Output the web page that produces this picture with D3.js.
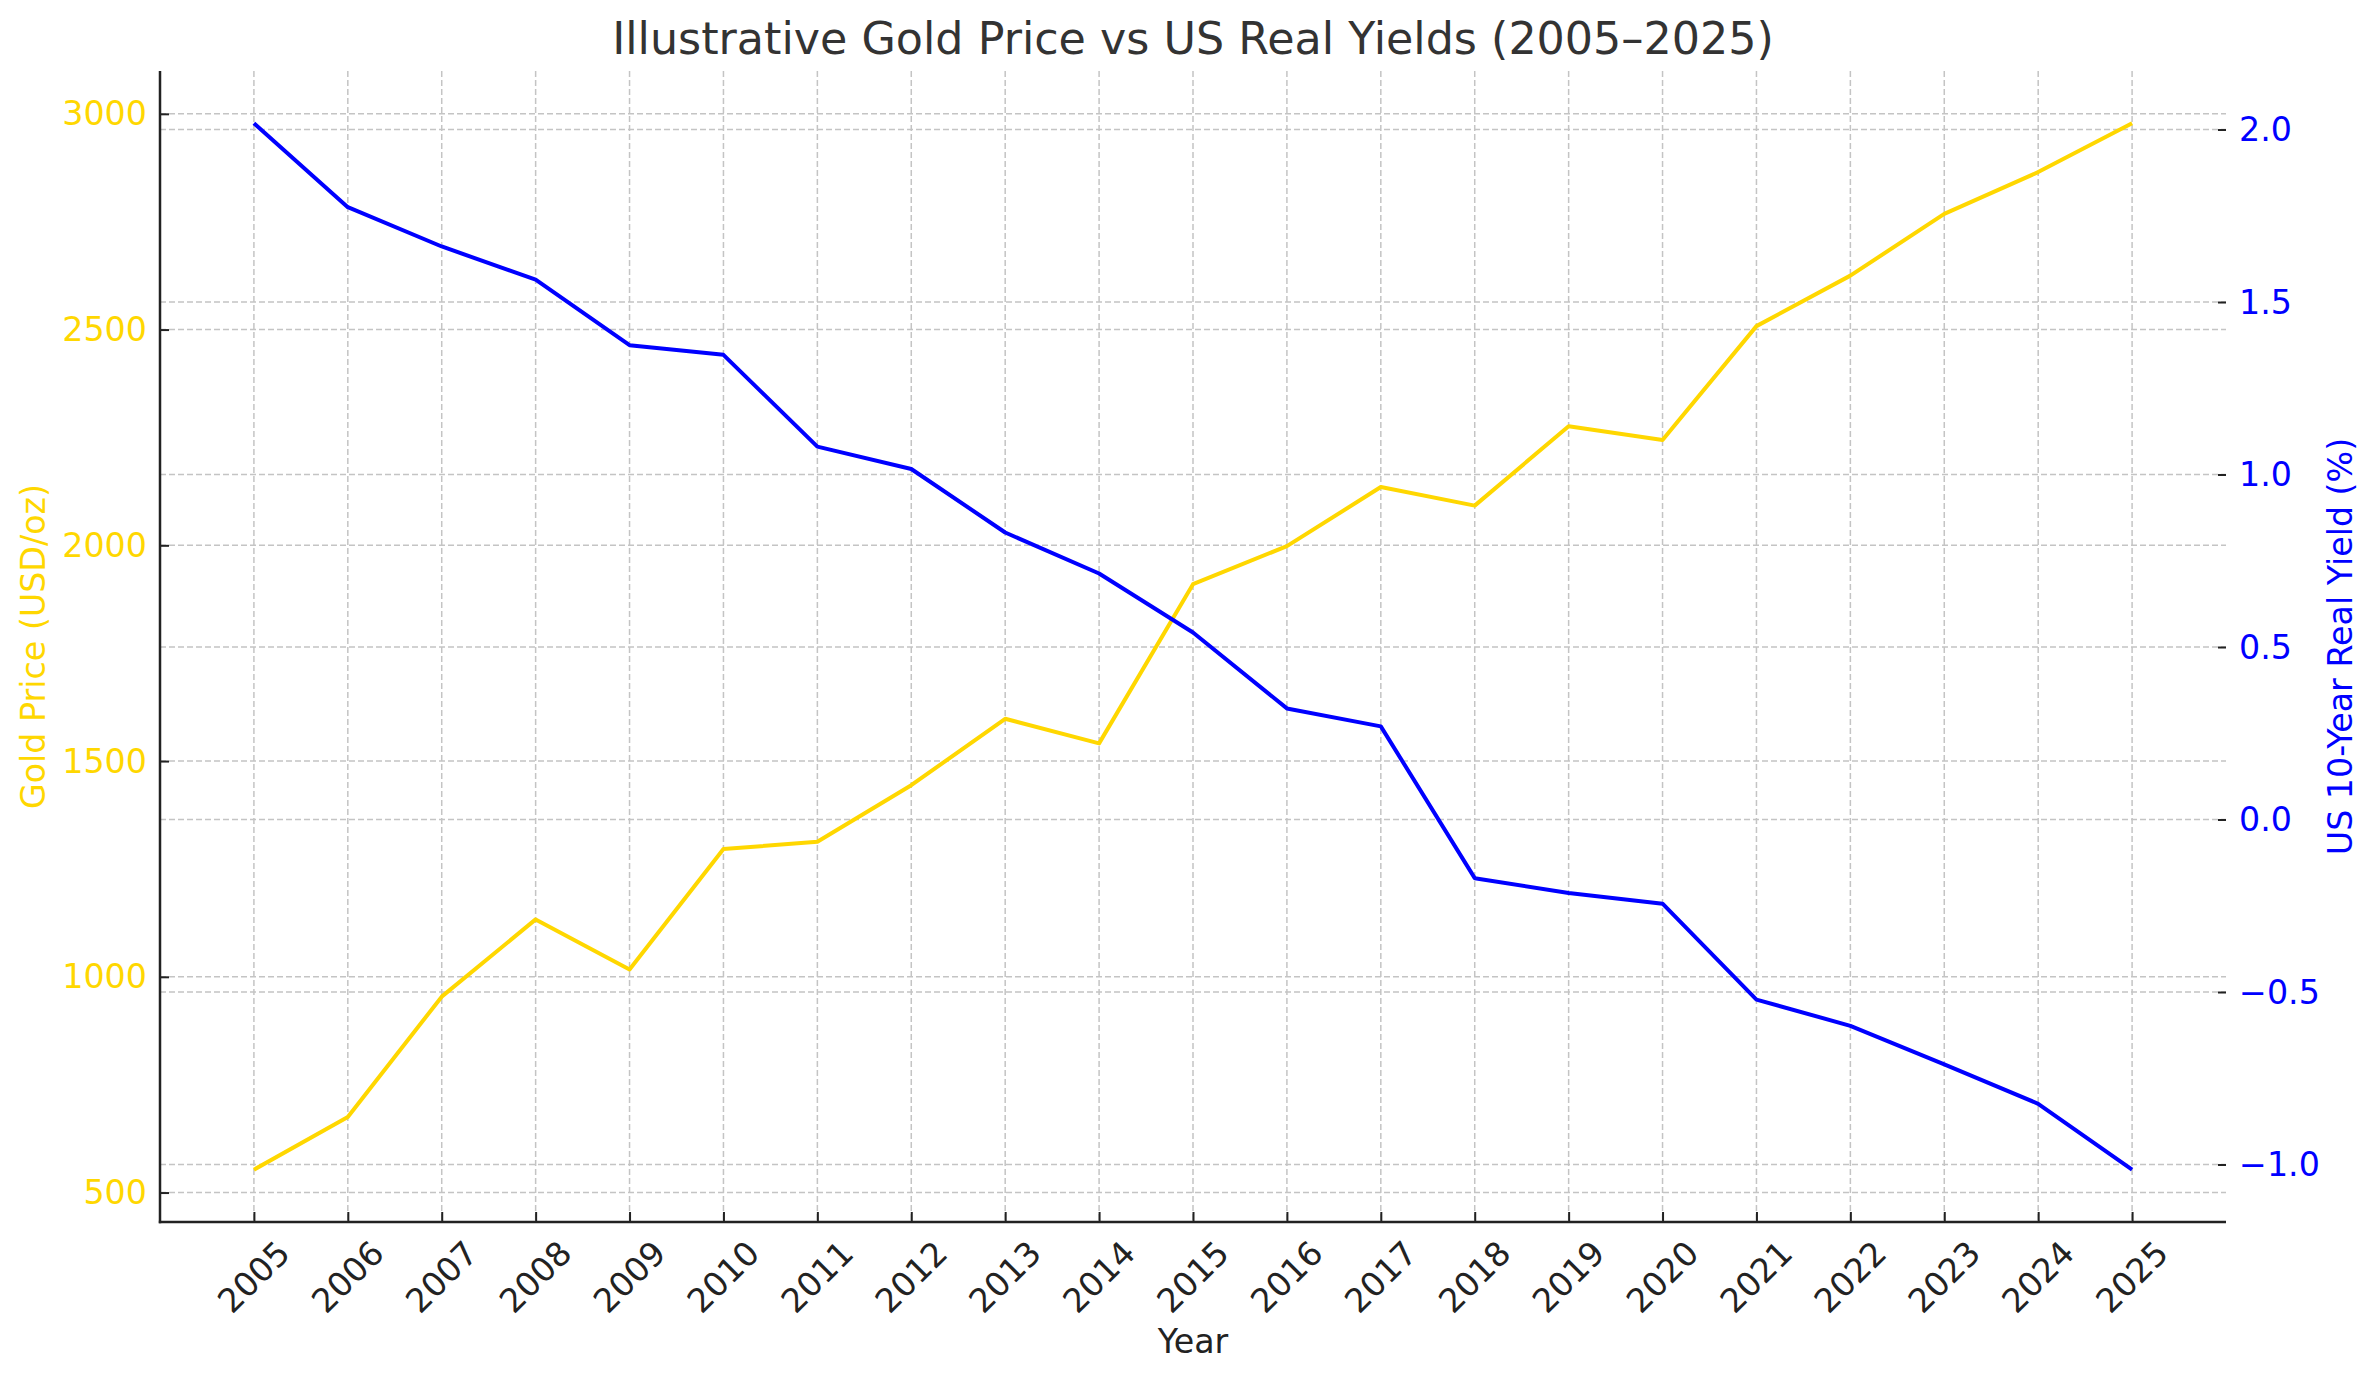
<!DOCTYPE html>
<html>
<head>
<meta charset="utf-8">
<script src="https://cdn.jsdelivr.net/npm/d3@7"></script>
<style>
  body { margin: 0; background: #fff; }
  text { font-family: "DejaVu Sans", sans-serif; }
</style>
</head>
<body>
<div id="chart"></div>
<script>
// data
const years = d3.range(2005, 2026);
const goldPrice = [553, 675, 954, 1133, 1017, 1296, 1313, 1444, 1598, 1541, 1910, 1998, 2135, 2092, 2276, 2244, 2508, 2625, 2768, 2865, 2978];
const realYield = [2.018, 1.775, 1.661, 1.565, 1.375, 1.347, 1.081, 1.016, 0.832, 0.713, 0.542, 0.322, 0.270, -0.170, -0.213, -0.244, -0.522, -0.598, -0.710, -0.824, -1.015];
const goldTicks = [500, 1000, 1500, 2000, 2500, 3000];
const yieldTicks = [-1.0, -0.5, 0.0, 0.5, 1.0, 1.5, 2.0];

const W = 2379, H = 1380;
const m = {left: 160, right: 2226, top: 71, bottom: 1222};
const GOLD = "#FFD700", BLUE = "#0000FF";

const svg = d3.select("#chart").append("svg")
    .attr("width", W).attr("height", H)
    .style("background", "#fff");

// matplotlib style 5% padding
function padded(vals) {
    const [lo, hi] = d3.extent(vals);
    const p = (hi - lo) * 0.05;
    return [lo - p, hi + p];
}

const x = d3.scaleLinear().domain([2004, 2026]).range([m.left, m.right]);
const yL = d3.scaleLinear().domain(padded(goldPrice)).range([m.bottom, m.top]);
const yR = d3.scaleLinear().domain(padded(realYield)).range([m.bottom, m.top]);

const grid = svg.append("g")
    .attr("stroke", "#c4c4c4").attr("stroke-width", 1.5)
    .attr("stroke-dasharray", "6,3");

grid.selectAll("line.vx").data(years).join("line")
    .attr("x1", d => x(d)).attr("x2", d => x(d))
    .attr("y1", m.top).attr("y2", m.bottom);
grid.selectAll("line.hl").data(goldTicks).join("line")
    .attr("x1", m.left).attr("x2", m.right)
    .attr("y1", d => yL(d)).attr("y2", d => yL(d));
grid.selectAll("line.hr").data(yieldTicks).join("line")
    .attr("x1", m.left).attr("x2", m.right)
    .attr("y1", d => yR(d)).attr("y2", d => yR(d));

const goldLine = d3.line().x((d, i) => x(years[i])).y(d => yL(d));
const yieldLine = d3.line().x((d, i) => x(years[i])).y(d => yR(d));

svg.append("path").datum(goldPrice)
    .attr("d", goldLine).attr("fill", "none")
    .attr("stroke", GOLD).attr("stroke-width", 4).attr("stroke-linejoin", "round");
svg.append("path").datum(realYield)
    .attr("d", yieldLine).attr("fill", "none")
    .attr("stroke", BLUE).attr("stroke-width", 4).attr("stroke-linejoin", "round");

// axes, ticks pointing in
const fmtMinus = d => d3.format(".1f")(d).replace("-", "\u2212");

const xAxis = svg.append("g")
    .attr("transform", `translate(0,${m.bottom})`)
    .call(d3.axisTop(x).tickValues(years).tickSize(10).tickFormat(""));
xAxis.select(".domain").remove();
xAxis.selectAll("line").attr("stroke", "#222").attr("stroke-width", 2);
svg.append("g").selectAll("text").data(years).join("text")
    .attr("transform", d => `translate(${x(d)},${m.bottom + 55}) rotate(-45)`)
    .attr("text-anchor", "middle").attr("dominant-baseline", "central")
    .attr("font-size", 33.3).attr("fill", "#222")
    .text(d => d);

const leftAxis = svg.append("g")
    .attr("transform", `translate(${m.left},0)`)
    .call(d3.axisRight(yL).tickValues(goldTicks).tickSize(9).tickFormat(""));
leftAxis.select(".domain").remove();
leftAxis.selectAll("line").attr("stroke", "#222").attr("stroke-width", 2);
svg.append("g").selectAll("text").data(goldTicks).join("text")
    .attr("x", m.left - 13).attr("y", d => yL(d))
    .attr("text-anchor", "end").attr("dominant-baseline", "central")
    .attr("font-size", 33.3).attr("fill", GOLD)
    .text(d => d);

const rightAxis = svg.append("g")
    .attr("transform", `translate(${m.right},0)`)
    .call(d3.axisLeft(yR).tickValues(yieldTicks).tickSize(8).tickFormat(""));
rightAxis.select(".domain").remove();
rightAxis.selectAll("line").attr("stroke", "#222").attr("stroke-width", 2);
svg.append("g").selectAll("text").data(yieldTicks).join("text")
    .attr("x", m.right + 13).attr("y", d => yR(d))
    .attr("text-anchor", "start").attr("dominant-baseline", "central")
    .attr("font-size", 33.3).attr("fill", BLUE)
    .text(fmtMinus);

// spines: left and bottom only
svg.append("line").attr("x1", m.left).attr("x2", m.left)
    .attr("y1", m.top).attr("y2", m.bottom + 1.2)
    .attr("stroke", "#222").attr("stroke-width", 2.5);
svg.append("line").attr("x1", m.left - 1.2).attr("x2", m.right)
    .attr("y1", m.bottom).attr("y2", m.bottom)
    .attr("stroke", "#222").attr("stroke-width", 2.5);

// labels
const midY = (m.top + m.bottom) / 2;
svg.append("text")
    .attr("x", (m.left + m.right) / 2).attr("y", 54)
    .attr("text-anchor", "middle").attr("font-size", 44.4).attr("fill", "#333")
    .text("Illustrative Gold Price vs US Real Yields (2005\u20132025)");
svg.append("text")
    .attr("x", (m.left + m.right) / 2).attr("y", 1353)
    .attr("text-anchor", "middle").attr("font-size", 33.3).attr("fill", "#222")
    .text("Year");
svg.append("text")
    .attr("transform", `translate(45,${midY}) rotate(-90)`)
    .attr("text-anchor", "middle").attr("font-size", 33.3).attr("fill", GOLD)
    .text("Gold Price (USD/oz)");
svg.append("text")
    .attr("transform", `translate(2352,${midY}) rotate(-90)`)
    .attr("text-anchor", "middle").attr("font-size", 33.3).attr("fill", BLUE)
    .text("US 10-Year Real Yield (%)");
</script>
</body>
</html>
